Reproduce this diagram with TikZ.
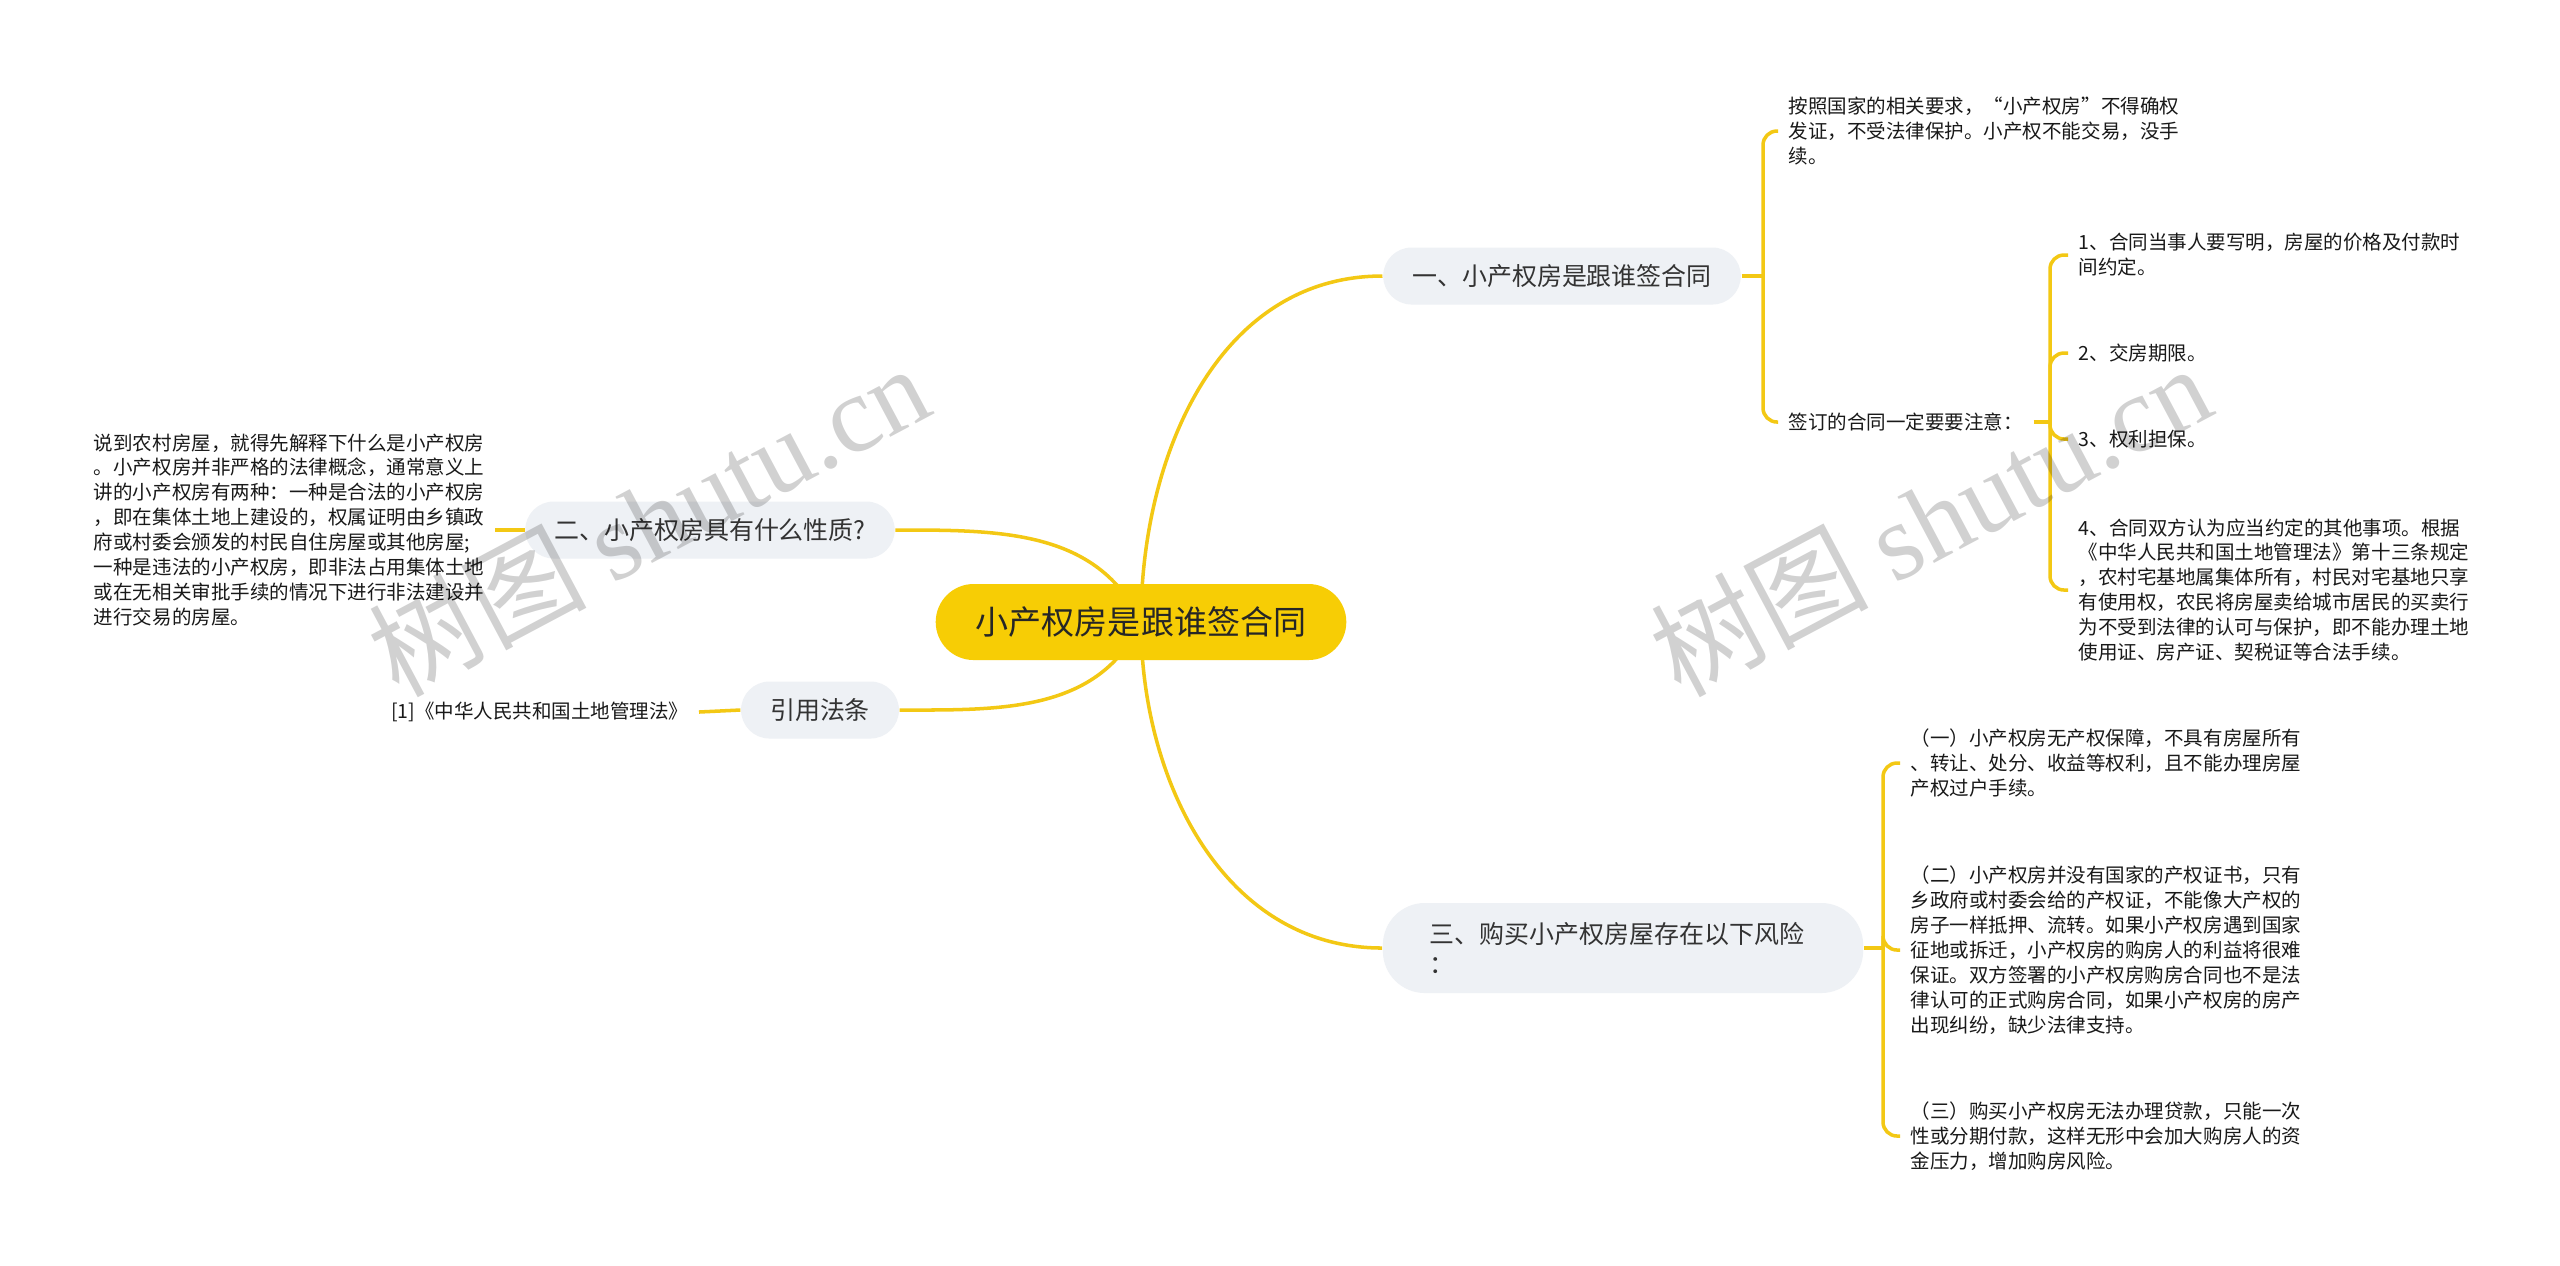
\documentclass[tikz,border=0pt]{standalone}
\usepackage{fontspec}
\setmainfont{Noto Sans CJK SC}
\newfontfamily\wmlatin{Liberation Serif}
\usetikzlibrary{positioning}

\definecolor{mapyellow}{HTML}{F3C814}
\definecolor{rootfill}{HTML}{F7CD05}
\definecolor{branchfill}{HTML}{EEF1F5}
\definecolor{inkgray}{HTML}{333333}

\pgfdeclarelayer{paper}
\pgfdeclarelayer{wires}
\pgfsetlayers{paper,wires,main}

\tikzstyle{rootnode}=[
    fill=rootfill,
    rounded corners=0.38cm,
    minimum height=0.76cm,
    inner xsep=0.4cm,
    font=\fontsize{9.4pt}{11pt}\selectfont,
    text=black!85,
  ]
\tikzstyle{branch}=[
    fill=branchfill,
    rounded corners=0.285cm,
    minimum height=0.57cm,
    inner xsep=0.29cm,
    font=\fontsize{7.1pt}{8.6pt}\selectfont,
    text=inkgray,
  ]
\tikzstyle{leaf}=[
    inner xsep=0.1cm,
    inner ysep=0.05cm,
    align=left,
    font=\fontsize{5.55pt}{7.1pt}\selectfont,
    text=black!90,
  ]
\tikzstyle{link}=[
    draw=mapyellow,
    line width=1pt,
  ]
\tikzstyle{fork}=[
    link,
    rounded corners=0.14cm,
  ]
\tikzstyle{stamp}=[
    text=black,
    text opacity=0.18,
    rotate=28,
    font=\fontsize{31pt}{33pt}\selectfont,
  ]

\begin{document}
\begin{tikzpicture}[x=0.01cm, y=-0.01cm]
  \begin{pgfonlayer}{paper}
    \fill[white] (0,0) rectangle (2560,1265);
  \end{pgfonlayer}
  \useasboundingbox (0,0) rectangle (2560,1265);

  % centre and main branches
  \node[rootnode] (root) at (1141,622) {小产权房是跟谁签合同};
  \node[branch] (b1) at (1562,276) {一、小产权房是跟谁签合同};
  \node[branch] (b2) at (710,530) {二、小产权房具有什么性质?};
  \node[branch] (b3) at (820,710) {引用法条};
  \node[branch, align=left, text width=3.86cm, inner xsep=0.47cm,
        minimum height=0.9cm, rounded corners=0.42cm] (b4) at (1623,948)
    {三、购买小产权房屋存在以下风险\\：};

  % leaves of branch one
  \node[leaf, anchor=west] (n1) at (1778,131)
    {按照国家的相关要求，“小产权房”不得确权\\发证，不受法律保护。小产权不能交易，没手\\续。};
  \node[leaf, anchor=west] (n2) at (1778,422) {签订的合同一定要要注意：};
  \node[leaf, anchor=west] (n3) at (2068,255)
    {1、合同当事人要写明，房屋的价格及付款时\\间约定。};
  \node[leaf, anchor=west] (n4) at (2068,353) {2、交房期限。};
  \node[leaf, anchor=west] (n5) at (2068,439) {3、权利担保。};
  \node[leaf, anchor=west] (n6) at (2068,590)
    {4、合同双方认为应当约定的其他事项。根据\\《中华人民共和国土地管理法》第十三条规定\\，农村宅基地属集体所有，村民对宅基地只享\\有使用权，农民将房屋卖给城市居民的买卖行\\为不受到法律的认可与保护，即不能办理土地\\使用证、房产证、契税证等合法手续。};

  % leaves of branch three
  \node[leaf, anchor=west] (n7) at (1900,763)
    {（一）小产权房无产权保障，不具有房屋所有\\、转让、处分、收益等权利，且不能办理房屋\\产权过户手续。};
  \node[leaf, anchor=west] (n8) at (1900,950)
    {（二）小产权房并没有国家的产权证书，只有\\乡政府或村委会给的产权证，不能像大产权的\\房子一样抵押、流转。如果小产权房遇到国家\\征地或拆迁，小产权房的购房人的利益将很难\\保证。双方签署的小产权房购房合同也不是法\\律认可的正式购房合同，如果小产权房的房产\\出现纠纷，缺少法律支持。};
  \node[leaf, anchor=west] (n9) at (1900,1136)
    {（三）购买小产权房无法办理贷款，只能一次\\性或分期付款，这样无形中会加大购房人的资\\金压力，增加购房风险。};

  % left leaves
  \node[leaf, anchor=east] (n10) at (495,530)
    {说到农村房屋，就得先解释下什么是小产权房\\。小产权房并非严格的法律概念，通常意义上\\讲的小产权房有两种：一种是合法的小产权房\\，即在集体土地上建设的，权属证明由乡镇政\\府或村委会颁发的村民自住房屋或其他房屋;\\一种是违法的小产权房，即非法占用集体土地\\或在无相关审批手续的情况下进行非法建设并\\进行交易的房屋。};
  \node[leaf, anchor=east] (n11) at (699,712) {[1]《中华人民共和国土地管理法》};

  \coordinate (j1) at (1763,276);
  \coordinate (j2) at (2050,422);
  \coordinate (j3) at (1883,948);

  \begin{pgfonlayer}{wires}
    \draw[link] (root.center) to[out=90, in=180] (b1.west);
    \draw[link] (b2.east) to[out=0, in=115] (root.center);
    \draw[link] (b3.east) to[out=0, in=245] (root.center);
    \draw[link] (root.center) to[out=270, in=180] (b4.west);
    \draw[link] (b1.east) -- (j1);
    \foreach \n in {n1, n2} {%
      \draw[fork] (j1) |- (\n.west);
    }
    \draw[link] (n2.east) -- (j2);
    \foreach \n in {n3, n4, n5, n6} {%
      \draw[fork] (j2) |- (\n.west);
    }
    \draw[link] (b4.east) -- (j3);
    \foreach \n in {n7, n8, n9} {%
      \draw[fork] (j3) |- (\n.west);
    }
    \draw[link] (b2.west) -- (n10.east);
    \draw[link] (b3.west) -- (n11.east);
  \end{pgfonlayer}

  % watermark
  \node[stamp] (wm1) at (648,519) {树图 {\wmlatin shutu.cn}};
  \node[stamp] (wm2) at (1930,519) {树图 {\wmlatin shutu.cn}};
\end{tikzpicture}
\end{document}
